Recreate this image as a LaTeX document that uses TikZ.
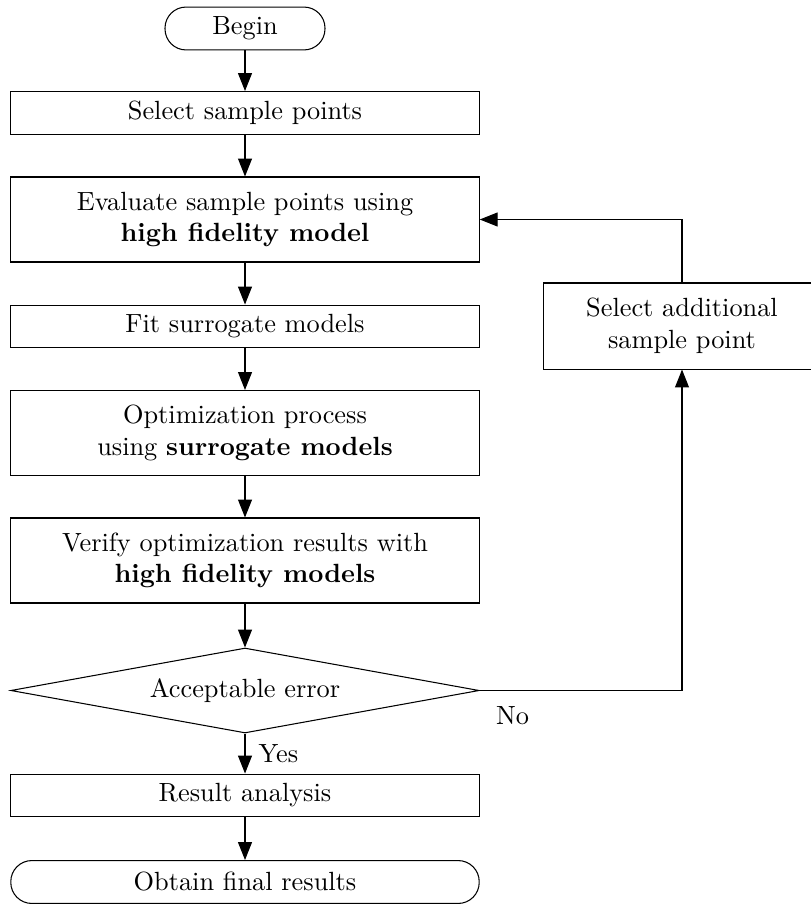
\documentclass[tikz,border=0pt]{standalone}
\usetikzlibrary{shapes.geometric,arrows.meta}
\begin{document}
\begin{tikzpicture}[x=0.38pt,y=-0.38pt,
    box/.style={draw,rectangle,align=center,minimum width=178pt,minimum height=16.3pt,inner sep=2pt},
    tallbox/.style={box,minimum height=32.3pt},
    term/.style={draw,rectangle,rounded corners=8pt,minimum width=178pt,minimum height=16.3pt,inner sep=2pt},
    decision/.style={draw,diamond,aspect=5.5,inner sep=0pt,minimum width=178pt,minimum height=32.3pt}]
  \useasboundingbox (0,0) rectangle (811,904);
  \draw
    (245,28.5) node[term,minimum width=60.8pt] (begin){Begin}
    (245,113) node[box] (select){Select sample points}
    (245,219.5) node[tallbox] (eval){Evaluate sample points using\\\textbf{high fidelity model}}
    (245,326.5) node[box] (fit){Fit surrogate models}
    (245,433) node[tallbox] (opt){Optimization process\\using \textbf{surrogate models}}
    (245,560.5) node[tallbox] (verify){Verify optimization results with\\\textbf{high fidelity models}}
    (245,690.5) node[decision] (check){Acceptable error}
    (245,795.5) node[box] (result){Result analysis}
    (245,882) node[term] (final){Obtain final results}
    (682,326) node[tallbox,minimum width=105.6pt,minimum height=32.7pt] (extra){Select additional\\sample point};
  \begin{scope}[-{Triangle[length=6.8pt,width=5.3pt]}]
    \draw (begin) to (select);
    \draw (select) to (eval);
    \draw (eval) to (fit);
    \draw (fit) to (opt);
    \draw (opt) to (verify);
    \draw (verify) to (check);
    \draw (check) to node[right,inner sep=5pt]{Yes} (result);
    \draw (result) to (final);
    \draw (check.east) -| node[pos=0,below right,inner sep=6pt]{No} (extra.south);
    \draw (extra.north) |- (eval.east);
  \end{scope}
\end{tikzpicture}
\end{document}
